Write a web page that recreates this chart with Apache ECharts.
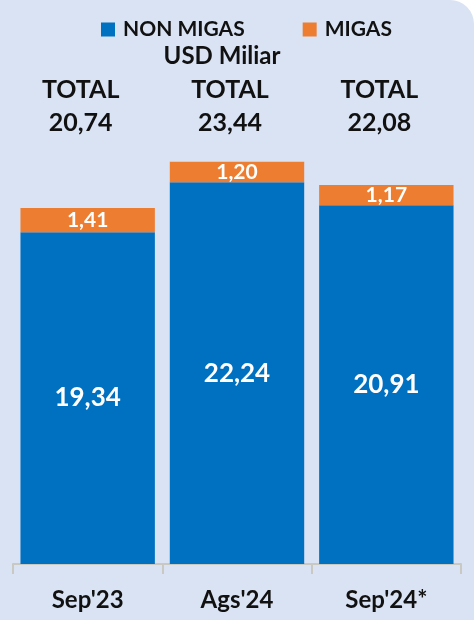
<!DOCTYPE html>
<html>
<head>
<meta charset="utf-8">
<script src="https://cdn.jsdelivr.net/npm/echarts@6/dist/echarts.min.js"></script>
<style>
  html, body { margin: 0; padding: 0; background: #ffffff; }
  #chart { width: 474px; height: 620px; background: #DAE3F3; border-top-right-radius: 24px; overflow: hidden; }
</style>
</head>
<body>
<div id="chart"></div>
<script>
const categories = ["Sep'23", "Ags'24", "Sep'24*"];
const nonMigas = [19.34, 22.24, 20.91];
const migas = [1.41, 1.20, 1.17];
const totals = [20.74, 23.44, 22.08];
const unitLabel = 'USD Miliar';

const fmt = v => v.toFixed(2).replace('.', ',');
const FONT = 'Lato';

const chart = echarts.init(document.getElementById('chart'), null, { renderer: 'canvas' });
chart.setOption({
  backgroundColor: 'transparent',
  animation: false,
  textStyle: { fontFamily: FONT },
  title: {
    text: unitLabel,
    left: 222,
    textAlign: 'center',
    top: 44,
    padding: 0,
    textStyle: { fontFamily: FONT, fontSize: 24, fontWeight: 'bold', color: '#111111' }
  },
  legend: {
    left: 101,
    top: 19,
    padding: 0,
    itemWidth: 14,
    itemHeight: 14,
    itemGap: 58,
    icon: 'rect',
    textStyle: { fontFamily: FONT, fontSize: 21, fontWeight: 'bold', color: '#111111', padding: [0, 0, 0, 3] },
    data: ['NON MIGAS', 'MIGAS']
  },
  grid: { left: 13, right: 13, top: 135, bottom: 56, containLabel: false },
  xAxis: [
    {
      type: 'category',
      data: categories,
      axisLine: { lineStyle: { color: '#C9C9C2', width: 2 } },
      axisTick: { show: true, length: 10, lineStyle: { color: '#C9C9C2', width: 2 } },
      axisLabel: { margin: 24, fontFamily: FONT, fontSize: 24, fontWeight: 'bold', color: '#111111' }
    },
    {
      type: 'category',
      position: 'top',
      data: categories,
      axisLine: { show: false },
      axisTick: { show: false },
      axisLabel: {
        margin: -4,
        fontFamily: FONT, fontSize: 25, fontWeight: 'bold', color: '#111111',
        lineHeight: 33,
        padding: [0, 14, 0, 0],
        formatter: (v, i) => 'TOTAL\n' + fmt(totals[i])
      }
    }
  ],
  yAxis: { type: 'value', min: 0, max: 25, show: false, splitLine: { show: false } },
  series: [
    {
      name: 'NON MIGAS',
      type: 'bar',
      stack: 'total',
      barWidth: '90%',
      data: nonMigas,
      itemStyle: { color: '#0070C0' },
      label: {
        show: true, position: 'inside',
        fontFamily: FONT, fontSize: 26, fontWeight: 'bold', color: '#ffffff',
        formatter: p => fmt(p.value)
      }
    },
    {
      name: 'MIGAS',
      type: 'bar',
      stack: 'total',
      barWidth: '90%',
      data: migas,
      itemStyle: { color: '#ED7D31' },
      label: {
        show: true, position: 'inside',
        fontFamily: FONT, fontSize: 21, fontWeight: 'bold', color: '#ffffff',
        formatter: p => fmt(p.value)
      }
    }
  ]
});
</script>
</body>
</html>
